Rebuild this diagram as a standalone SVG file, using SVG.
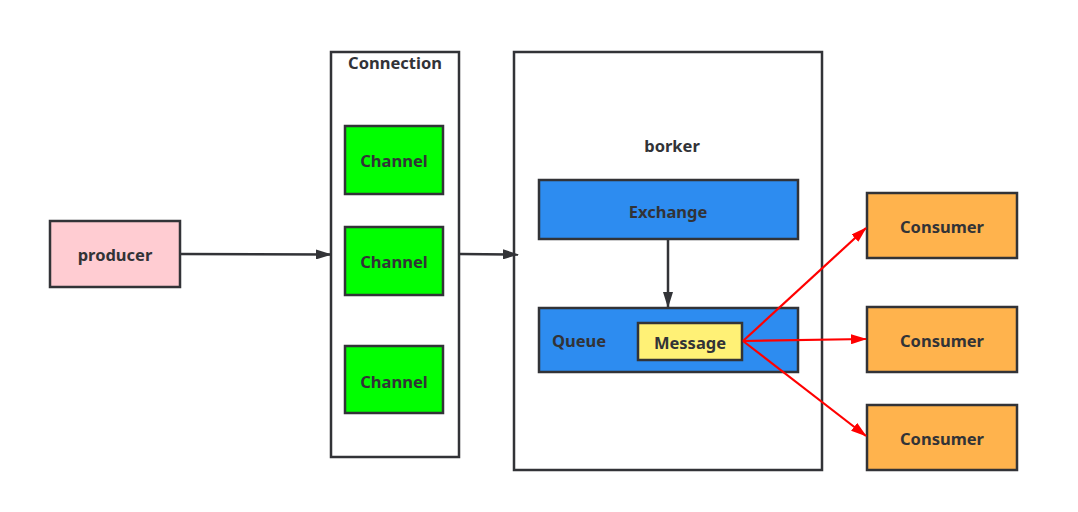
<svg xmlns="http://www.w3.org/2000/svg" width="1078" height="512" viewBox="0 0 1078 512">
<style>
.box{stroke:#323337;stroke-width:2.5}
.t{font-family:"Noto Sans","Open Sans",sans-serif;font-weight:bold;font-size:16.5px;fill:#323337;text-anchor:middle;dominant-baseline:central}
.c{fill:none;stroke:#323337;stroke-width:2.5}
.r{fill:none;stroke:#ff0000;stroke-width:2.2}
</style>
<defs>
<marker id="ab" markerWidth="16" markerHeight="10" refX="15" refY="5" orient="auto" markerUnits="userSpaceOnUse"><path d="M0,0 L16,5 L0,10 Z" fill="#323337"/></marker>
<marker id="ar" markerWidth="16" markerHeight="10" refX="15" refY="5" orient="auto" markerUnits="userSpaceOnUse"><path d="M0,0 L16,5 L0,10 Z" fill="#ff0000"/></marker>
</defs>
<rect width="1078" height="512" fill="#ffffff"/>
<g id="connection"><rect class="box" x="331" y="52" width="128" height="405" fill="#ffffff"/><text class="t" x="395" y="62.5">Connection</text></g>
<g id="broker"><rect class="box" x="514" y="52" width="308" height="418" fill="#ffffff"/><text class="t" x="672" y="145.5">borker</text></g>
<g id="producer"><rect class="box" x="50" y="221" width="130" height="66" fill="#ffccd2"/><text class="t" x="115" y="254">producer</text></g>
<g id="channel1"><rect class="box" x="345" y="126" width="98" height="68" fill="#00ff00"/><text class="t" x="394" y="160">Channel</text></g>
<g id="channel2"><rect class="box" x="345" y="227" width="98" height="68" fill="#00ff00"/><text class="t" x="394" y="261">Channel</text></g>
<g id="channel3"><rect class="box" x="345" y="346" width="98" height="67" fill="#00ff00"/><text class="t" x="394" y="381">Channel</text></g>
<g id="exchange"><rect class="box" x="539" y="180" width="259" height="59" fill="#2d8cf0"/><text class="t" x="668" y="211">Exchange</text></g>
<g id="queue"><rect class="box" x="539" y="308" width="259" height="64" fill="#2d8cf0"/><text class="t" x="579" y="340">Queue</text></g>
<g id="message"><rect class="box" x="638" y="323" width="104" height="37" fill="#fff176"/><text class="t" x="690" y="342">Message</text></g>
<g id="consumer1"><rect class="box" x="867" y="193" width="150" height="65" fill="#ffb34d"/><text class="t" x="942" y="226">Consumer</text></g>
<g id="consumer2"><rect class="box" x="867" y="307" width="150" height="65" fill="#ffb34d"/><text class="t" x="942" y="340">Consumer</text></g>
<g id="consumer3"><rect class="box" x="867" y="405" width="150" height="65" fill="#ffb34d"/><text class="t" x="942" y="438">Consumer</text></g>
<g id="connectors">
<line class="c" x1="181" y1="254" x2="331" y2="254.5" marker-end="url(#ab)"/>
<line class="c" x1="460" y1="254" x2="518" y2="254.5" marker-end="url(#ab)"/>
<line class="c" x1="668" y1="240" x2="668" y2="307" marker-end="url(#ab)"/>
<line class="r" x1="743" y1="341" x2="866" y2="228" marker-end="url(#ar)"/>
<line class="r" x1="743" y1="341" x2="866" y2="339" marker-end="url(#ar)"/>
<line class="r" x1="743" y1="341" x2="866" y2="436" marker-end="url(#ar)"/>
</g>
</svg>
